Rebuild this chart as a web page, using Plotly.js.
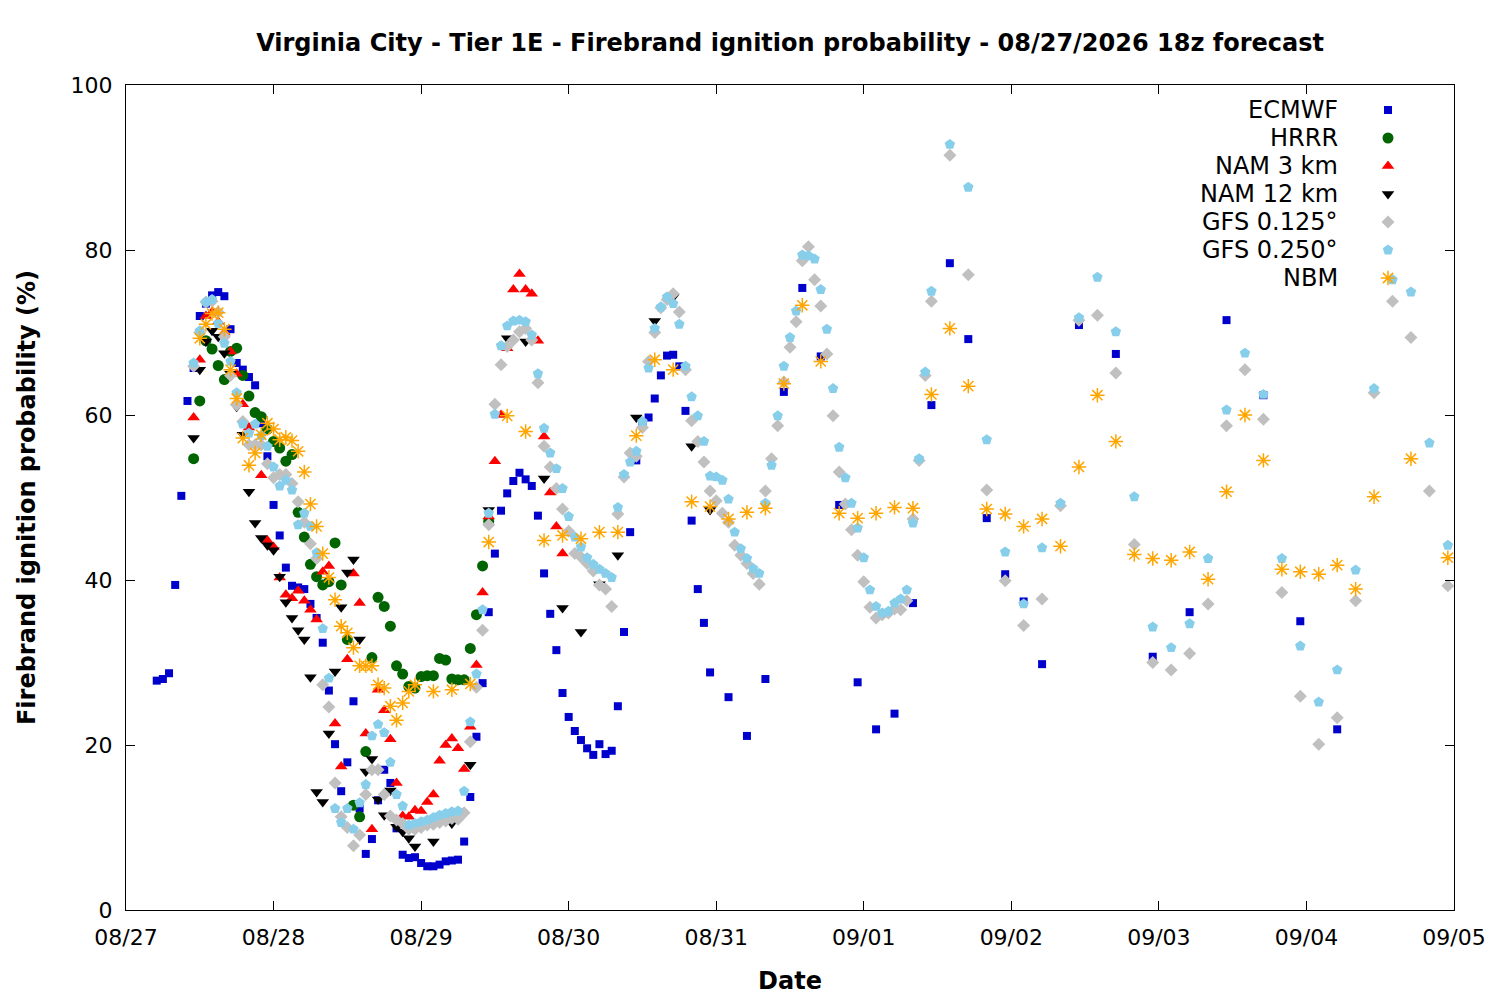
<!DOCTYPE html>
<html>
<head>
<meta charset="utf-8">
<script src="https://cdn.plot.ly/plotly-3.0.1.min.js"></script>
<style>
  html, body { margin: 0; padding: 0; background: #fff; }
  #chart { width: 1500px; height: 1000px; }
</style>
</head>
<body>
<div id="chart"></div>
<script>
// Forecast hours are local hours after 08/27 00:00; each model has its own output steps
const ecmwfSteps = [[5, 95, 1], [98, 149, 3], [155, 197, 6]];
const hrrrSteps = [[11, 59, 1]];
const nam3Steps = [[11, 71, 1]];
const nam12Steps = [[11, 47, 1], [50, 95, 3]];
const gfsSteps = [[11, 131, 1], [134, 215, 3]];
const nbmSteps = [[12, 47, 1], [50, 203, 3], [209, 215, 6]];

const ecmwfValues = [
    27.8, 28.0, 28.7, 39.4, 50.2, 61.7, 65.7, 72.0, 73.5, 74.5,
    74.9, 74.4, 70.4, 66.3, 65.5, 64.6, 63.6, 59.0, 55.0, 49.1,
    45.4, 41.5, 39.3, 39.1, 38.9, 37.1, 35.4, 32.4, 26.6, 20.1,
    14.4, 17.9, 25.3, 12.3, 6.8, 8.6, 13.3, 17.0, 15.4, 9.9,
    6.7, 6.3, 6.4, 5.7, 5.3, 5.3, 5.5, 5.9, 6.0, 6.1,
    8.3, 13.7, 21.0, 27.5, 36.1, 43.2, 48.4, 50.5, 52.0, 53.0,
    52.2, 51.4, 47.8, 40.8, 35.9, 31.5, 26.3, 23.4, 21.7, 20.6,
    19.6, 18.8, 20.1, 18.9, 19.3, 24.7, 33.7, 45.8, 54.5, 58.9,
    59.7, 62.0, 64.8, 67.2, 67.3, 65.9, 60.5, 47.2, 38.9, 34.8,
    28.8,
    25.8, 21.1, 28.0, 62.8, 75.4, 67.1, 49.1, 27.6, 21.9, 23.8,
    37.2, 61.2, 78.4, 69.2, 47.5, 40.7, 37.4, 29.8,
    70.9, 67.4, 30.7, 36.1, 71.5, 62.4, 35.0, 21.9,
];

const hrrrValues = [
    54.7, 61.7, 69.0, 68.0, 66.0, 64.3, 67.7, 68.1, 64.8, 62.3,
    60.3, 59.8, 58.3, 56.8, 56.0, 54.4, 55.2, 48.2, 45.2, 41.9,
    40.4, 39.4, 39.8, 44.5, 39.4, 32.8, 12.7, 11.3, 19.2, 30.6,
    37.9, 36.8, 34.4, 29.6, 28.6, 27.1, 26.9, 28.3, 28.4, 28.4,
    30.5, 30.3, 28.0, 27.9, 27.9, 31.7, 35.8, 41.7, 47.1,
];

const nam3Values = [
    59.7, 66.7, 72.0, 72.5, 71.3, 70.0, 67.7, 65.0, 61.3, 58.5,
    56.5, 52.7, 44.8, 44.0, 40.3, 38.2, 37.8, 38.7, 37.5, 36.4,
    35.2, 41.0, 41.7, 22.6, 17.4, 30.4, 40.8, 37.2, 21.4, 9.8,
    26.7, 24.2, 20.7, 15.4, 11.4, 11.3, 12.1, 12.0, 13.1, 14.0,
    18.1, 20.0, 20.8, 19.6, 17.1, 22.2, 29.7, 38.5, 47.7, 54.4,
    60.0, 68.1, 75.2, 77.1, 75.2, 74.7, 69.0, 57.4, 50.6, 46.5,
    43.2,
];

const nam12Values = [
    57.2, 65.5, 68.9, 70.2, 69.5, 67.5, 65.0, 61.0, 57.6, 50.7,
    46.9, 45.1, 44.2, 43.6, 40.4, 37.3, 35.4, 33.9, 32.8, 28.2,
    14.3, 13.1, 21.4, 28.9, 36.7, 40.9, 42.5, 32.8, 16.8, 18.3,
    13.4, 11.5, 14.5, 10.1, 9.5, 8.7, 7.7,
    8.3, 10.5, 17.6, 48.5, 69.3, 68.9, 52.3, 36.6, 33.7, 39.5,
    43.0, 59.7, 71.4, 74.3, 56.2, 48.5,
];

const gfs125Values = [
    65.9, 70.0, 73.7, 73.8, 72.5, 69.5, 64.8, 61.2, 59.2, 56.4,
    56.4, 56.4, 54.1, 52.4, 52.8, 52.8, 51.7, 49.5, 47.0, 44.4,
    42.6, 27.3, 24.6, 15.4, 11.3, 10.0, 7.8, 9.1, 14.0, 17.0,
    17.0, 14.0, 11.4, 10.9, 10.5, 9.8, 9.8, 10.0, 10.3, 10.4,
    10.6, 10.8, 11.1, 11.0, 11.8, 20.4, 27.0, 33.9, 46.7, 61.3,
    66.1, 68.3, 69.1, 70.1, 70.5, 69.1, 63.9, 56.2, 53.7, 51.1,
    48.6, 45.9, 43.2, 42.8, 42.0, 41.1, 39.4, 38.9, 36.8, 48.0,
    52.5, 55.4, 55.0, 58.5, 66.5, 70.0, 73.0, 74.0, 74.7, 72.5,
    65.5, 59.3, 56.8, 54.3, 50.8, 49.6, 48.1, 47.0, 44.2, 43.0,
    42.0, 40.8, 39.5, 50.8, 54.7, 58.7, 64.0, 68.2, 71.3, 78.7,
    80.4, 76.4, 73.2, 67.4, 59.9, 53.1, 49.2, 46.1, 43.0, 39.8,
    36.7, 35.4, 35.8, 36.0, 36.5, 36.4, 37.5, 47.4, 54.5, 64.8, 73.8,
    91.5, 77.0, 50.9, 39.9, 34.5, 37.7, 49.0, 71.5, 72.1, 65.1,
    44.3, 30.0, 29.1, 31.1, 37.1, 58.7, 65.5, 59.5, 38.5, 25.9,
    20.1, 23.3, 37.5, 62.7, 73.8, 69.4, 50.8, 39.3,
];

const gfs250Values = [
    66.3, 70.2, 73.7, 74.0, 71.1, 68.7, 66.5, 62.7, 58.9, 57.8,
    58.9, 57.5, 56.2, 53.7, 51.4, 52.1, 50.9, 46.7, 48.1, 46.5,
    43.3, 34.1, 28.1, 12.3, 10.6, 12.3, 9.8, 13.0, 15.2, 21.1,
    22.5, 21.5, 17.9, 14.0, 12.6, 10.3, 10.5, 10.7, 10.9, 11.2,
    11.5, 11.7, 11.9, 12.0, 14.4, 22.8, 28.6, 36.4, 48.1, 60.1,
    68.4, 70.8, 71.4, 71.5, 71.3, 69.7, 65.0, 58.4, 55.4, 53.5,
    51.1, 47.7, 45.2, 44.0, 42.7, 41.9, 41.3, 40.8, 40.3, 48.8,
    52.8, 54.3, 55.6, 59.2, 65.7, 70.5, 73.1, 74.3, 73.5, 71.0,
    65.9, 62.2, 59.9, 56.8, 52.6, 52.5, 52.1, 49.8, 45.8, 43.8,
    42.6, 41.4, 40.8, 49.3, 53.9, 59.9, 65.9, 69.4, 72.6, 79.4,
    79.3, 78.9, 75.2, 70.4, 63.2, 56.1, 52.4, 49.3, 46.3, 42.7,
    38.8, 36.8, 36.0, 36.2, 37.2, 37.7, 38.8, 46.9, 54.7, 65.2, 75.0,
    92.8, 87.6, 57.0, 43.4, 37.1, 43.9, 49.3, 71.8, 76.7, 70.1,
    50.1, 34.3, 31.8, 34.7, 42.6, 60.6, 67.5, 62.5, 42.6, 32.0,
    25.2, 29.1, 41.2, 63.2, 76.4, 74.9, 56.6, 44.2,
];

const nbmValues = [
    69.3, 71.0, 72.3, 72.4, 70.4, 65.5, 62.0, 57.2, 53.9, 55.4,
    57.6, 59.0, 58.3, 57.0, 57.3, 56.9, 55.6, 53.1, 49.2, 46.5,
    43.2, 40.3, 37.6, 34.4, 33.6, 31.8, 29.6, 29.6, 29.6, 27.3,
    26.9, 24.7, 23.0, 25.1, 26.5, 27.3,
    26.5, 26.7, 27.4, 44.6, 59.9, 58.0, 44.8, 45.4, 45.0, 45.8,
    45.8, 57.5, 66.7, 65.5, 49.5, 48.9, 47.4, 48.2, 48.7, 63.8,
    73.3, 66.5, 48.1, 47.5, 48.1, 48.8, 48.7, 62.5, 70.5, 63.5,
    48.6, 48.0, 46.5, 47.4, 44.1, 53.7, 62.4, 56.8, 43.1, 42.6,
    42.4, 43.4, 40.1, 50.7, 60.0, 54.5, 41.3, 41.0, 40.7, 41.8,
    38.9, 50.1,
    54.7, 42.7,
];

const seriesNames = ['ECMWF', 'HRRR', 'NAM 3 km', 'NAM 12 km', 'GFS 0.125°', 'GFS 0.250°', 'NBM'];

function expandHours(steps) {
    const hours = [];
    steps.forEach(([start, end, step]) => {
        for (let h = start; h <= end; h += step) hours.push(h);
    });
    return hours;
}

function hourToDate(h) {
    const d = new Date(Date.UTC(2026, 7, 27) + h * 3600 * 1000);
    return d.toISOString().slice(0, 16).replace('T', ' ');
}

const models = [
    {steps: ecmwfSteps, values: ecmwfValues, symbol: 'square', size: 8, color: '#0000cc'},
    {steps: hrrrSteps, values: hrrrValues, symbol: 'circle', size: 11, color: '#006400'},
    {steps: nam3Steps, values: nam3Values, symbol: 'triangle-up', size: 11, color: '#ff0000'},
    {steps: nam12Steps, values: nam12Values, symbol: 'triangle-down', size: 11, color: '#000000'},
    {steps: gfsSteps, values: gfs125Values, symbol: 'diamond', size: 10, color: '#c0c0c0'},
    {steps: gfsSteps, values: gfs250Values, symbol: 'pentagon', size: 11, color: '#87ceeb'},
    {steps: nbmSteps, values: nbmValues, symbol: 'asterisk-open', size: 12, color: '#ffa500'},
];

function markerFor(m) {
    if (m.symbol === 'asterisk-open') {
        return {symbol: m.symbol, size: m.size, color: m.color, line: {color: m.color, width: 1.5}};
    }
    return {symbol: m.symbol, size: m.size, color: m.color, line: {width: 0}};
}

const traces = models.map((m, i) => {
    const hours = expandHours(m.steps);
    if (hours.length !== m.values.length) {
        console.warn(seriesNames[i], hours.length, m.values.length);
    }
    return {
        x: hours.slice(0, m.values.length).map(hourToDate),
        y: m.values,
        type: 'scatter',
        mode: 'markers',
        name: seriesNames[i],
        marker: markerFor(m),
        showlegend: false,
        hoverinfo: 'x+y+name',
    };
});

// gnuplot style key: right-aligned text with the symbol to its right
const keyTop = 0.9697;
const keyStep = 28 / 825;
const keyTextX = 0.9142;
const keySymbolX = 0.9503;

models.forEach((m, i) => {
    traces.push({
        x: [keySymbolX],
        y: [keyTop - i * keyStep],
        xaxis: 'x2',
        yaxis: 'y2',
        type: 'scatter',
        mode: 'markers',
        marker: markerFor(m),
        showlegend: false,
        hoverinfo: 'skip',
        cliponaxis: false,
    });
});

const keyAnnotations = seriesNames.map((name, i) => ({
    text: name,
    xref: 'paper',
    yref: 'paper',
    x: keyTextX,
    y: keyTop - i * keyStep,
    xanchor: 'right',
    yanchor: 'middle',
    showarrow: false,
    font: {family: 'DejaVu Sans', size: 24, color: '#000'},
}));

const layout = {
    width: 1500,
    height: 1000,
    margin: {l: 126, r: 46, t: 85, b: 90},
    paper_bgcolor: '#fff',
    plot_bgcolor: '#fff',
    font: {family: 'DejaVu Sans', size: 22, color: '#000'},
    title: {
        text: '<b>Virginia City - Tier 1E - Firebrand ignition probability - 08/27/2026 18z forecast</b>',
        font: {family: 'DejaVu Sans', size: 24, color: '#000'},
        x: 0.5267,
        xanchor: 'center',
        y: 0.957,
        yanchor: 'middle',
    },
    xaxis: {
        type: 'date',
        range: ['2026-08-27 00:00', '2026-09-05 00:00'],
        tick0: '2026-08-27',
        dtick: 86400000,
        tickformat: '%m/%d',
        ticks: 'inside',
        ticklen: 9,
        tickcolor: '#000',
        showline: true,
        linecolor: '#000',
        linewidth: 1,
        mirror: 'ticks',
        showgrid: false,
        zeroline: false,
        ticklabelstandoff: 8,
        title: {text: '<b>Date</b>', font: {size: 24}, standoff: 22},
    },
    yaxis: {
        range: [0, 100],
        dtick: 20,
        ticks: 'inside',
        ticklen: 9,
        tickcolor: '#000',
        showline: true,
        linecolor: '#000',
        linewidth: 1,
        mirror: 'ticks',
        showgrid: false,
        zeroline: false,
        ticklabelstandoff: 8,
        title: {text: '<b>Firebrand ignition probability (%)</b>', font: {size: 24}, standoff: 28},
    },
    xaxis2: {overlaying: 'x', range: [0, 1], visible: false, fixedrange: true},
    yaxis2: {overlaying: 'y', range: [0, 1], visible: false, fixedrange: true},
    annotations: keyAnnotations,
    showlegend: false,
};

Plotly.newPlot('chart', traces, layout, {displayModeBar: false, staticPlot: true});
</script>
</body>
</html>
